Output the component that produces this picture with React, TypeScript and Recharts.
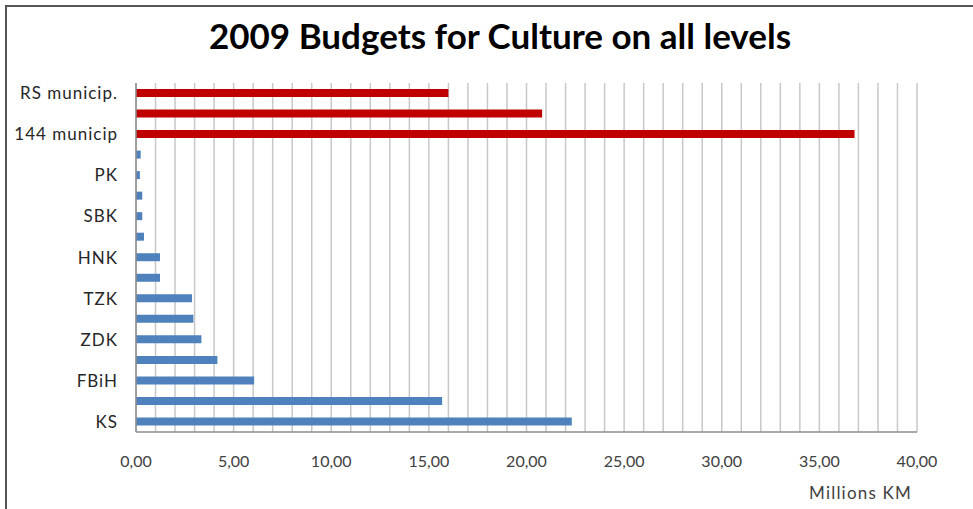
import { BarChart, Bar, XAxis, YAxis, CartesianGrid, Cell } from 'recharts';

// budget levels, top to bottom (every other label is shown, as in the original)
const categories = [
  'RS municip.', 'RS', '144 municip', 'BPK', 'PK', 'K10', 'SBK', 'ZHK', 'HNK',
  'USK', 'TZK', 'BiH', 'ZDK', 'Sarajevo', 'FBiH', 'Brčko', 'KS',
];
const budgets = [
  16.0, 20.8, 36.8, 0.24, 0.2, 0.32, 0.32, 0.41, 1.23,
  1.23, 2.87, 2.94, 3.35, 4.17, 6.05, 15.68, 22.32,
];
const redLevels = ['RS municip.', 'RS', '144 municip'];
// one gridline per million, a label every five
const gridTicks = Array.from({ length: 41 }, (_, i) => i);

const FONT = 'Lato, "Open Sans", sans-serif';

export default function App() {
  const data = categories.map((name, i) => ({ name, value: budgets[i] }));

  return (
    <div style={{ position: 'fixed', left: 0, top: 0, width: 973, height: 509, overflow: 'hidden', background: '#fff', fontFamily: FONT }}>
      <div style={{ position: 'absolute', left: 5, top: 5, width: 1000, height: 600, borderTop: '2px solid #555', borderLeft: '2px solid #555' }} />
      <div style={{ position: 'absolute', left: 0, width: 1000, top: 14, textAlign: 'center', fontSize: 35, fontWeight: 700, color: '#000' }}>
        2009 Budgets for Culture on all levels
      </div>
      <BarChart
        width={973}
        height={509}
        data={data}
        layout="vertical"
        barCategoryGap={0}
        margin={{ top: 83, right: 56, left: 8, bottom: 47 }}
        style={{ position: 'absolute', left: 0, top: 0 }}
      >
        <CartesianGrid horizontal={false} stroke="#c8c8c8" strokeWidth={1.5} />
        <XAxis
          type="number"
          domain={[0, 40]}
          ticks={gridTicks}
          interval={0}
          tickFormatter={(v: number) => (v % 5 === 0 ? v.toFixed(2).replace('.', ',') : '')}
          tickLine={false}
          tickSize={0}
          tickMargin={24}
          axisLine={{ stroke: '#8c8c8c', strokeWidth: 1.5 }}
          tick={{ fontSize: 16, fill: '#404040', fontFamily: FONT }}
          height={30}
        />
        <YAxis
          type="category"
          dataKey="name"
          width={128}
          interval={1}
          tickLine={false}
          tickSize={0}
          tickMargin={18}
          axisLine={{ stroke: '#8c8c8c', strokeWidth: 1.5 }}
          tick={{ fontSize: 17, fill: '#262626', fontFamily: FONT, letterSpacing: 1 }}
        />
        <Bar dataKey="value" barSize={8} isAnimationActive={false}>
          {data.map((d, i) => (
            <Cell key={`c-${i}`} fill={redLevels.includes(d.name) ? '#c00000' : '#4f81bd'} />
          ))}
        </Bar>
      </BarChart>
      <div style={{ position: 'absolute', right: 61, top: 482, fontSize: 17, letterSpacing: 1.2, color: '#404040' }}>
        Millions KM
      </div>
    </div>
  );
}
